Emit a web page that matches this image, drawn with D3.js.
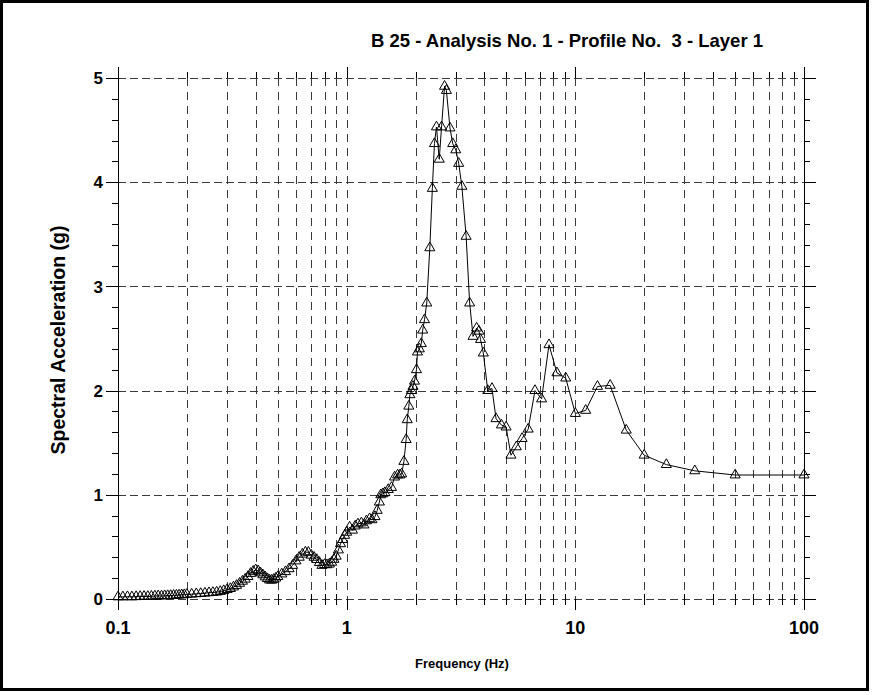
<!DOCTYPE html>
<html><head><meta charset="utf-8">
<script src="https://cdn.jsdelivr.net/npm/d3@7"></script>
<style>
body{margin:0;background:#fff}
svg{display:block}
text{font-family:"Liberation Sans",Arial,sans-serif;font-weight:bold;fill:#000}
</style>
</head><body>
<svg id="c" width="878" height="695"></svg>
<script>
const title = "B 25 - Analysis No. 1 - Profile No.  3 - Layer 1";
const xTitle = "Frequency (Hz)";
const yTitle = "Spectral Acceleration (g)";

const frequency = [
  0.100,0.105,0.110,0.115,0.120,0.125,0.130,0.135,0.140,0.145,0.150,0.155,0.160,0.165,0.170,0.175,0.180,0.185,0.190,0.195,0.200,
  0.21,0.22,0.23,0.24,0.25,0.26,0.27,0.28,0.29,0.30,0.31,0.32,0.33,0.34,0.35,0.36,0.37,0.38,0.39,0.40,0.41,0.42,0.43,0.44,0.45,0.46,0.47,0.48,0.49,
  0.50,0.52,0.54,0.56,0.58,0.60,0.62,0.64,0.66,0.68,0.70,0.72,0.74,0.76,0.78,0.80,0.82,0.84,0.86,0.88,0.90,0.92,0.94,0.96,0.98,
  1.00,1.03,1.06,1.09,1.12,1.16,1.19,1.22,1.26,1.29,1.33,1.36,1.39,1.41,1.44,1.47,1.52,1.57,1.62,1.67,1.71,1.74,1.78,1.82,1.84,1.87,1.89,1.92,1.95,1.98,
  2.02,2.04,2.08,2.12,2.15,2.19,2.24,2.31,2.37,2.42,2.47,2.54,2.60,2.68,2.73,2.83,2.91,3.00,3.09,3.19,3.33,3.45,3.57,3.70,3.79,3.85,3.96,
  4.14,4.32,4.50,4.75,4.98,5.23,5.52,5.85,6.22,6.66,7.12,7.67,8.31,9.08,10.0,11.1,12.5,14.2,16.7,20.0,25.0,33.3,50.0,100.0
];
const acceleration = [
  0.020,0.020,0.022,0.020,0.022,0.024,0.025,0.024,0.026,0.028,0.030,0.029,0.031,0.032,0.033,0.035,0.036,0.038,0.040,0.041,0.044,
  0.046,0.050,0.052,0.056,0.060,0.062,0.066,0.072,0.080,0.090,0.100,0.115,0.130,0.150,0.170,0.190,0.215,0.245,0.265,0.280,0.270,0.250,0.232,0.212,0.195,0.182,0.180,0.188,0.200,
  0.215,0.240,0.262,0.290,0.322,0.365,0.400,0.430,0.450,0.448,0.420,0.400,0.378,0.350,0.322,0.330,0.328,0.335,0.352,0.380,0.410,0.470,0.530,0.570,0.610,
  0.640,0.690,0.660,0.700,0.720,0.730,0.710,0.750,0.770,0.760,0.790,0.850,0.930,1.000,1.010,1.020,1.050,1.070,1.170,1.190,1.190,1.200,1.320,1.530,1.720,1.850,1.960,2.000,2.040,2.090,
  2.200,2.370,2.400,2.450,2.580,2.680,2.840,3.370,3.940,4.370,4.530,4.220,4.530,4.920,4.880,4.520,4.370,4.310,4.180,3.960,3.480,2.840,2.520,2.600,2.570,2.490,2.360,
  2.000,2.020,1.730,1.670,1.650,1.380,1.460,1.540,1.630,2.000,1.920,2.440,2.170,2.120,1.780,1.810,2.040,2.050,1.620,1.380,1.290,1.230,1.190,1.190
];

const xTickValues = [0.1, 1, 10, 100];
const xTickLabels = ["0.1", "1", "10", "100"];
const yTickValues = [0, 1, 2, 3, 4, 5];
const yTickLabels = ["0", "1", "2", "3", "4", "5"];

const svg = d3.select("#c");
const L = 118, R = 804, T = 78, B = 599;
const x = d3.scaleLog().domain([0.1, 100]).range([L, R]);
const y = d3.scaleLinear().domain([0, 5]).range([B, T]);

// outer frame
svg.append("rect").attr("x", 1.5).attr("y", 1.5).attr("width", 866).attr("height", 688)
  .attr("fill", "none").attr("stroke", "#000").attr("stroke-width", 3);

// minor x positions
const xMinor = [];
[0.1, 1, 10].forEach(d => { for (let k = 2; k <= 9; k++) xMinor.push(+(k * d).toPrecision(3)); });
const xGrid = xMinor.concat([1, 10]);
const yMinor = d3.range(0, 5.0001, 0.2).map(v => +v.toFixed(1)).filter(v => !yTickValues.includes(v));

const gridColor = "#3a3a3a";
// vertical grid
svg.append("g").selectAll("line").data(xGrid).join("line")
  .attr("x1", d => Math.round(x(d)) + 0.5).attr("x2", d => Math.round(x(d)) + 0.5)
  .attr("y1", T).attr("y2", B)
  .attr("stroke", gridColor).attr("stroke-width", 1).attr("stroke-dasharray", "8,6");
// horizontal grid
svg.append("g").selectAll("line").data(yTickValues).join("line")
  .attr("x1", L).attr("x2", R)
  .attr("y1", d => Math.round(y(d)) + 0.5).attr("y2", d => Math.round(y(d)) + 0.5)
  .attr("stroke", gridColor).attr("stroke-width", 1).attr("stroke-dasharray", "8,4");

// axes lines (left & right solid)
const ax = svg.append("g").attr("stroke", "#000").attr("stroke-width", 1);
ax.append("line").attr("x1", L + 0.5).attr("x2", L + 0.5).attr("y1", T).attr("y2", B + 10);
ax.append("line").attr("x1", R + 0.5).attr("x2", R + 0.5).attr("y1", T - 10).attr("y2", B + 10);
// y ticks left/right
yTickValues.forEach(v => {
  const yy = Math.round(y(v)) + 0.5;
  ax.append("line").attr("x1", L - 12).attr("x2", L).attr("y1", yy).attr("y2", yy);
  ax.append("line").attr("x1", R).attr("x2", R + 12).attr("y1", yy).attr("y2", yy);
});
yMinor.forEach(v => {
  const yy = Math.round(y(v)) + 0.5;
  ax.append("line").attr("x1", L - 6).attr("x2", L).attr("y1", yy).attr("y2", yy);
  ax.append("line").attr("x1", R).attr("x2", R + 6).attr("y1", yy).attr("y2", yy);
});
// x ticks top/bottom
xMinor.forEach(v => {
  const xx = Math.round(x(v)) + 0.5;
  ax.append("line").attr("x1", xx).attr("x2", xx).attr("y1", T - 6).attr("y2", T);
  ax.append("line").attr("x1", xx).attr("x2", xx).attr("y1", B - 5).attr("y2", B + 6);
});
xTickValues.forEach(v => {
  const xx = Math.round(x(v)) + 0.5;
  ax.append("line").attr("x1", xx).attr("x2", xx).attr("y1", T - 11).attr("y2", T);
  ax.append("line").attr("x1", xx).attr("x2", xx).attr("y1", B).attr("y2", B + 11);
});

// data line
const pts = frequency.map((f, i) => [f, acceleration[i]]);
svg.append("path").datum(pts)
  .attr("fill", "none").attr("stroke", "#000").attr("stroke-width", 1)
  .attr("d", d3.line().x(d => x(d[0])).y(d => y(d[1])));
// triangles
const tri = d3.symbol().type(d3.symbolTriangle).size(44);
svg.append("g").selectAll("path").data(pts).join("path")
  .attr("transform", d => `translate(${x(d[0])},${y(d[1])})`)
  .attr("d", tri).attr("fill", "none").attr("stroke", "#000").attr("stroke-width", 1);

// tick labels
svg.append("g").selectAll("text").data(yTickValues).join("text")
  .attr("x", L - 15).attr("y", d => y(d)).attr("dy", "0.36em")
  .attr("text-anchor", "end").attr("font-size", 17).text((d, i) => yTickLabels[i]);
svg.append("g").selectAll("text").data(xTickValues).join("text")
  .attr("x", d => x(d)).attr("y", 634)
  .attr("text-anchor", "middle").attr("font-size", 18).text((d, i) => xTickLabels[i]);

// titles
svg.append("text").attr("x", 567).attr("y", 47).attr("text-anchor", "middle")
  .attr("font-size", 18.5).style("white-space", "pre").text(title);
svg.append("text").attr("x", 462).attr("y", 668).attr("text-anchor", "middle")
  .attr("font-size", 13).text(xTitle);
svg.append("text").attr("transform", "translate(65,340) rotate(-90)").attr("text-anchor", "middle")
  .attr("font-size", 19.5).text(yTitle);
</script>
</body></html>
